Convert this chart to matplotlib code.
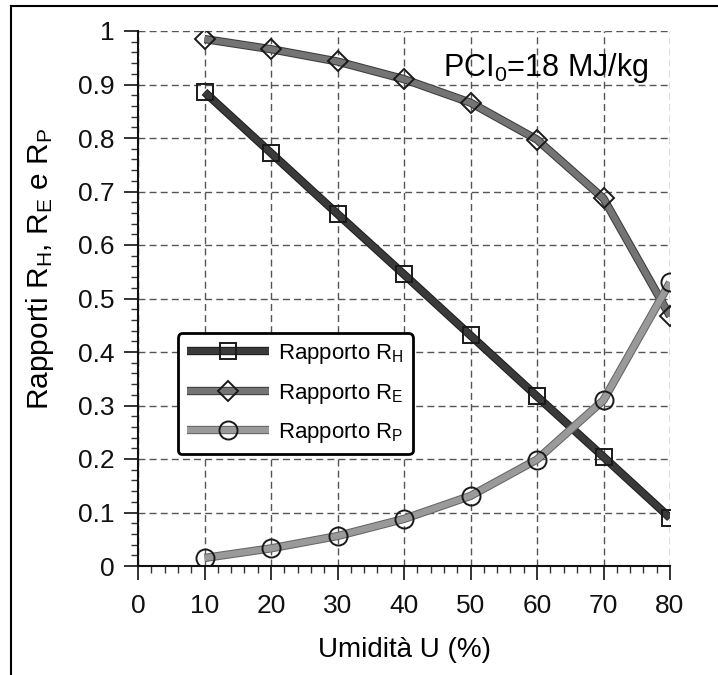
import matplotlib
matplotlib.use("Agg")
import matplotlib.pyplot as plt
import matplotlib.patheffects as pe
from matplotlib.lines import Line2D
from matplotlib.ticker import MultipleLocator
from matplotlib.legend_handler import HandlerTuple

plt.rcParams['font.family'] = ['Liberation Sans', 'DejaVu Sans']
plt.rcParams['mathtext.fontset'] = 'custom'
plt.rcParams['mathtext.rm'] = 'Liberation Sans'
plt.rcParams['mathtext.it'] = 'Liberation Sans'
plt.rcParams['mathtext.default'] = 'regular'

umidita = [10, 20, 30, 40, 50, 60, 70, 80]
r_h = [0.886, 0.772, 0.658, 0.545, 0.431, 0.317, 0.204, 0.090]
r_e = [0.985, 0.966, 0.943, 0.910, 0.866, 0.797, 0.687, 0.467]
r_p = [0.015, 0.033, 0.056, 0.088, 0.131, 0.199, 0.310, 0.530]

labels = [r'Rapporto R$_H$', r'Rapporto R$_E$', r'Rapporto R$_P$']
x_ticks = [0, 10, 20, 30, 40, 50, 60, 70, 80]
y_ticks = [0, 0.1, 0.2, 0.3, 0.4, 0.5, 0.6, 0.7, 0.8, 0.9, 1]
y_tick_labels = ['0', '0.1', '0.2', '0.3', '0.4', '0.5', '0.6', '0.7', '0.8', '0.9', '1']

W, H = 718, 675
fig = plt.figure(figsize=(W / 100, H / 100), dpi=100)
ax = fig.add_axes([138 / W, 1 - 566 / H, (670 - 138) / W, (566 - 31) / H])

ax.set_xlim(0, 80)
ax.set_ylim(0, 1)
ax.set_xticks(x_ticks)
ax.set_yticks(y_ticks)
ax.set_yticklabels(y_tick_labels)
ax.xaxis.set_minor_locator(MultipleLocator(2))
ax.yaxis.set_minor_locator(MultipleLocator(0.02))
ax.tick_params(axis='both', which='major', direction='out', length=10, width=1.2,
               labelsize=19, pad=7, colors='#111')
ax.tick_params(axis='both', which='minor', direction='out', length=5, width=1.0, colors='#333')
ax.tick_params(axis='x', which='major', pad=10)

for s in ['top', 'right']:
    ax.spines[s].set_visible(False)
for s in ['left', 'bottom']:
    ax.spines[s].set_linewidth(1.5)
    ax.spines[s].set_color('#111')

ax.grid(True, which='major', linestyle=(0, (5, 3)), color='#555', linewidth=1.0)
ax.set_axisbelow(True)

series = [
    (r_h, '#3a3a3a', '#1e1e1e', 's', 12),
    (r_e, '#747474', '#3c3c3c', 'D', 10.5),
    (r_p, '#9a9a9a', '#666666', 'o', 13),
]
handles = []
for vals, col, edge, m, ms in series:
    ln, = ax.plot(umidita, vals, color=col, lw=4.5, solid_capstyle='butt',
                  path_effects=[pe.Stroke(linewidth=6, foreground=edge), pe.Normal()])
    mk, = ax.plot(umidita, vals, linestyle='none', marker=m, ms=ms,
                  markerfacecolor='none', markeredgecolor='#1a1a1a', markeredgewidth=1.4)
    handles.append((ln, mk))

ax.set_xlabel('Umidità U (%)', fontsize=20, labelpad=14)
ax.set_ylabel(r'Rapporti R$_H$, R$_E$ e R$_P$', fontsize=21.5)
ax.yaxis.set_label_coords(-0.155, 0.555)

ax.text(0.96, 0.963, r'PCI$_0$=18 MJ/kg', transform=ax.transAxes, ha='right', va='top',
        fontsize=22)

leg = ax.legend(handles, labels, handler_map={tuple: HandlerTuple(ndivide=1, pad=0)},
                loc='upper left', bbox_to_anchor=(0.075, 0.435), borderaxespad=0,
                fontsize=16, handlelength=3.7, handletextpad=0.4, labelspacing=0.7,
                borderpad=0.4, fancybox=True, framealpha=1, edgecolor='black')
leg.get_frame().set_linewidth(2.0)

# figure frame (left and top edges of the scanned page)
fig.add_artist(Line2D([11 / W, 11 / W], [0, 1 - 6 / H], transform=fig.transFigure,
                      color='black', lw=1.5))
fig.add_artist(Line2D([11 / W, 1], [1 - 6 / H, 1 - 6 / H], transform=fig.transFigure,
                      color='black', lw=1.5))

fig.savefig('out.png', dpi=100)
